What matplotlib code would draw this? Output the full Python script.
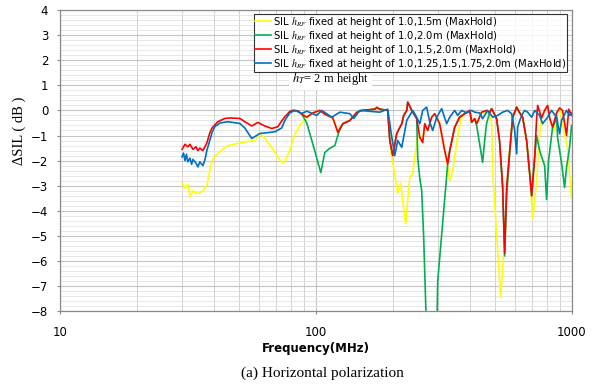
"""Delta SIL vs frequency, horizontal polarization (MaxHold comparison)."""

import matplotlib

matplotlib.use("Agg")
import matplotlib.pyplot as plt
from matplotlib.ticker import MultipleLocator, NullFormatter

# ---- data (frequency in MHz, delta SIL in dB) ----
yellow_freq = [30.0, 30.8, 31.6, 32.2, 33.1, 34.0, 35.2, 36.2, 37.5, 38.5, 39.5, 41.4, 45.3, 51.4, 55.2,
               57.8, 60.4, 63.2, 67.3, 71.0, 73.6, 75.7, 79.1, 82.8, 86.6, 90.6, 92.2, 97.3, 103.6, 108.4,
               116.6, 121.9, 127.5, 135.9, 144.6, 151.2, 162.6, 170.1, 173.2, 177.8, 191.1, 194.7, 198.2,
               203.5, 209.1, 214.8, 218.7, 224.7, 232.9, 239.3, 243.6, 250.3, 255.0, 261.8, 266.6, 273.8,
               283.9, 291.6, 305.0, 319.1, 327.8, 334.0, 342.9, 355.5, 365.0, 371.9, 381.9, 400.0, 406.9,
               418.0, 425.6, 445.0, 465.6, 478.0, 487.0, 491.4, 528.1, 542.0, 547.4, 557.3, 573.0, 588.2,
               609.9, 627.0, 643.7, 667.3, 686.0, 704.5, 730.3, 750.0, 763.7, 784.6, 805.9, 821.0, 843.0,
               858.2, 873.8, 898.0, 922.2, 964.6, 1000.0]
yellow_db = [-2.9, -3.1, -2.95, -3.45, -3.2, -3.3, -3.3, -3.2, -3.0, -2.4, -1.95, -1.7, -1.4, -1.28, -1.22,
             -1.2, -0.95, -1.1, -1.48, -1.85, -2.08, -2.05, -1.6, -0.95, -0.6, -0.35, -0.27, -0.1, 0.0, -0.15,
             -0.3, -0.87, -0.53, -0.4, -0.08, 0.0, 0.03, 0.05, 0.12, 0.05, 0.0, -1.2, -1.87,
             -2.53, -3.3, -2.9, -3.6, -4.53, -2.67, -2.53, -1.87, -1.1, -1.07, -1.28, -0.53, -0.8,
             -0.27, -0.13, -0.53, -1.6, -2.2, -2.8, -2.4, -1.3, -0.6, -0.3, -0.13, 0.0, -0.47,
             -0.33, -0.53, -0.07, -0.1, -0.2, -0.53, -2.4, -7.45, -5.8, -5.7, -3.07, -1.6, -0.27,
             0.13, -0.1, -0.27, -1.2, -2.53, -4.33, -2.8, -0.93, -0.3, 0.0, 0.2, -0.3, -0.67,
             -0.8, -0.1, 0.1, -0.6, -1.5, -3.5]

green_freq = [79.1, 81.3, 85.1, 88.2, 92.2, 97.3, 104.6, 108.4, 113.0, 118.7, 123.0, 127.5, 135.9, 144.6,
              151.2, 162.6, 170.1, 173.2, 177.8, 191.1, 194.7, 199.9, 207.2, 216.8, 220.7, 226.8, 228.8,
              237.1, 248.0, 250.3, 255.0, 259.5, 264.0, 271.4, 297.0, 299.7, 324.9, 327.8, 334.0, 349.1,
              365.0, 381.9, 400.0, 406.9, 418.0, 425.6, 437.0, 449.0, 457.3, 465.6, 478.0, 487.0, 509.3,
              523.0, 537.6, 547.4, 557.3, 573.0, 588.2, 609.9, 627.0, 643.7, 667.3, 686.0, 698.2, 717.3,
              730.3, 750.0, 784.6, 798.7, 813.2, 843.0, 858.2, 873.8, 881.7, 913.9, 938.9, 955.9, 982.2,
              1000.0]
green_db = [-0.05, 0.0, -0.02, -0.15, -0.5, -1.33, -2.48, -1.68, -1.52, -1.4, -0.87, -0.53, -0.4, -0.08,
            0.0, 0.03, 0.05, 0.12, 0.05, 0.0, -1.2, -1.8, -0.92, -0.53, -0.2, 0.0, 0.33,
            0.0, -0.32, -1.87, -2.7, -3.2, -5.0, -9.0, -9.0, -6.8, -2.6, -2.13, -1.6, -0.67,
            -0.27, -0.13, 0.0, -0.47, -0.33, -0.6, -1.33, -2.07, -1.2, -0.5, -0.1, 0.07, -0.33,
            -1.25, -3.1, -5.8, -3.4, -1.7, -0.3, 0.13, -0.1, -0.27, -1.2, -2.53, -3.4, -1.87,
            -1.0, -1.6, -2.2, -3.55, -2.0, -0.67, -0.5, -0.2, -1.07, -2.1, -3.07, -2.27, -1.47,
            -0.6]

red_freq = [30.0, 30.8, 31.6, 32.2, 33.1, 34.0, 34.6, 35.2, 36.2, 37.5, 38.5, 39.3, 41.4, 44.1, 46.1,
            50.5, 52.8, 56.2, 59.3, 63.2, 67.3, 71.0, 73.6, 75.7, 79.1, 81.3, 85.1, 88.2, 92.2, 97.3,
            103.6, 108.4, 116.6, 121.9, 127.5, 135.9, 144.6, 151.2, 162.6, 170.1, 173.2, 177.8, 191.1,
            194.7, 199.9, 207.2, 216.8, 220.7, 226.8, 228.8, 237.1, 248.0, 255.0, 261.8, 266.6, 273.8,
            283.9, 291.6, 305.0, 319.1, 327.8, 334.0, 349.1, 365.0, 381.9, 400.0, 406.9, 418.0, 425.6,
            445.0, 465.6, 478.0, 487.0, 509.3, 523.0, 537.6, 547.4, 557.3, 573.0, 588.2, 609.9, 627.0,
            643.7, 667.3, 686.0, 698.2, 717.3, 730.3, 736.9, 763.7, 784.6, 805.9, 821.0, 843.0, 873.8,
            898.0, 922.2, 955.9, 975.0, 1000.0]
red_db = [-1.55, -1.35, -1.45, -1.35, -1.55, -1.45, -1.6, -1.5, -1.6, -1.3, -0.9, -0.7, -0.45, -0.32, -0.3,
          -0.32, -0.45, -0.62, -0.48, -0.62, -0.72, -0.65, -0.42, -0.25, -0.05, 0.0, -0.02, -0.15, -0.27, -0.1,
          0.0, -0.15, -0.3, -0.87, -0.53, -0.4, -0.08, 0.0, 0.03, 0.05, 0.12, 0.05, 0.0,
          -1.2, -1.8, -0.92, -0.53, -0.2, 0.0, 0.33, 0.0, -0.32, -1.07, -1.28, -0.53, -0.8,
          -0.27, -0.13, -0.53, -1.6, -2.13, -1.6, -0.67, -0.27, -0.13, 0.0, -0.47, -0.33, -0.53,
          -0.07, 0.0, -0.1, 0.07, -0.33, -1.2, -3.0, -5.7, -3.07, -1.6, -0.27, 0.13, -0.1,
          -0.27, -1.2, -2.53, -3.4, -1.87, -0.3, 0.2, -0.3, 0.0, 0.2, -0.3, -0.67, -0.1,
          0.1, 0.0, -1.0, 0.05, -0.2]

blue_freq = [30.0, 30.4, 30.8, 31.2, 31.6, 32.2, 32.7, 33.1, 34.0, 34.6, 35.2, 36.2, 36.9, 37.5, 38.5,
             39.3, 40.3, 42.2, 45.3, 50.5, 52.8, 56.2, 60.4, 63.2, 69.2, 73.6, 75.7, 79.1, 82.8, 88.2,
             92.2, 100.9, 105.5, 115.5, 124.1, 135.9, 140.8, 148.6, 177.8, 191.1, 198.2, 203.5, 209.1,
             216.8, 226.8, 239.3, 248.0, 255.0, 261.8, 271.4, 279.0, 286.4, 297.0, 310.6, 324.9, 334.0,
             349.1, 358.7, 371.9, 388.9, 406.9, 418.0, 437.0, 449.0, 469.8, 491.4, 514.0, 537.6, 562.3,
             583.0, 599.0, 609.9, 615.4, 637.9, 655.4, 673.3, 698.2, 717.3, 750.0, 770.5, 805.9, 835.4,
             873.8, 898.0, 913.9, 955.9, 982.2, 1000.0]
blue_db = [-1.85, -1.7, -2.0, -1.75, -2.05, -1.9, -2.15, -1.95, -2.1, -2.25, -2.05, -2.2, -1.95, -1.6, -1.2,
           -0.88, -0.65, -0.5, -0.45, -0.52, -0.7, -1.12, -0.92, -0.9, -0.85, -0.7, -0.4, -0.1, 0.0, -0.12,
           -0.03, -0.2, 0.0, -0.27, -0.07, -0.13, -0.32, 0.0, -0.07, 0.05, -1.07, -1.8, -1.2,
           -1.47, -0.4, 0.0, -0.27, -0.53, 0.0, 0.13, -0.47, -0.8, -0.27, 0.07, -0.53, -0.27,
           0.0, -0.2, 0.0, -0.1, 0.0, -0.07, -0.1, -0.33, 0.0, -0.27, -0.2, -0.07, 0.0,
           -0.13, -0.8, -1.73, -0.65, -0.2, 0.0, -0.07, -0.27, 0.0, -0.2, -0.53, -0.27, 0.0,
           -0.27, -0.93, -0.4, 0.0, -0.2, -0.1]

labels = [
    r"SIL $h_{RF}$ fixed at height of 1.0,1.5m (MaxHold)",
    r"SIL $h_{RF}$ fixed at height of 1.0,2.0m (MaxHold)",
    r"SIL $h_{RF}$ fixed at height of 1.0,1.5,2.0m (MaxHold)",
    r"SIL $h_{RF}$ fixed at height of 1.0,1.25,1.5,1.75,2.0m (MaxHold)",
]
colors = ["#ffff00", "#00b050", "#ff0000", "#0070c0"]
x_ticks = [10, 100, 1000]
y_ticks = list(range(-8, 5))

plt.rcParams["mathtext.fontset"] = "stix"
plt.rcParams["font.family"] = "DejaVu Sans"

fig = plt.figure(figsize=(5.99, 3.87), dpi=100)
ax = fig.add_axes([0.1002, 0.196, 0.854, 0.778])

series = [(yellow_freq, yellow_db), (green_freq, green_db), (red_freq, red_db), (blue_freq, blue_db)]
for (freq, db), color, label in zip(series, colors, labels):
    ax.plot(freq, db, color=color, linewidth=1.2, label=label)

ax.set_xscale("log")
ax.set_xlim(10, 1000)
ax.set_ylim(-8, 4)
ax.set_xticks(x_ticks, labels=[str(t) for t in x_ticks])
ax.xaxis.set_minor_formatter(NullFormatter())
ax.set_yticks(y_ticks)
ax.yaxis.set_minor_locator(MultipleLocator(0.2))

ax.grid(True, which="major", axis="both", color="#c4c4c4", linewidth=0.8)
ax.grid(True, which="minor", axis="x", color="#d2d2d2", linewidth=0.7)
ax.grid(True, which="minor", axis="y", color="#e2e2e2", linewidth=0.6)
ax.set_axisbelow(True)

for spine in ax.spines.values():
    spine.set_color("#8a8a8a")
    spine.set_linewidth(0.9)
ax.tick_params(which="major", direction="out", length=2.5, color="#8a8a8a", labelsize=8.5, pad=6)
ax.tick_params(which="minor", length=0)
ax.tick_params(axis="x", pad=8)

ax.set_ylabel("ΔSIL ( dB )", family="Liberation Serif", fontsize=10.5)
ax.yaxis.set_label_coords(-0.066, 0.6)
ax.set_xlabel("Frequency(MHz)", fontsize=8.5, fontweight="bold")
ax.xaxis.set_label_coords(0.5, -0.123)
ax.xaxis.label.set_verticalalignment("center")

leg = ax.legend(loc="upper right", bbox_to_anchor=(0.992, 0.987), fontsize=7.2, frameon=True,
                fancybox=False, borderpad=0.1, labelspacing=0.0, handlelength=1.6,
                handletextpad=0.25, borderaxespad=0.0)
leg.get_frame().set_edgecolor("#000000")
leg.get_frame().set_linewidth(0.8)

ax.text(0.4536, 0.772, r"$h_T$= 2 m height", transform=ax.transAxes, family="Liberation Serif",
        fontsize=9, va="center", ha="left",
        bbox=dict(facecolor="white", edgecolor="none", pad=2))

fig.text(322 / 599, 1 - 373 / 387, "(a) Horizontal polarization", family="Liberation Serif",
         fontsize=11, ha="center", va="center")

fig.savefig("out.png", dpi=100)
